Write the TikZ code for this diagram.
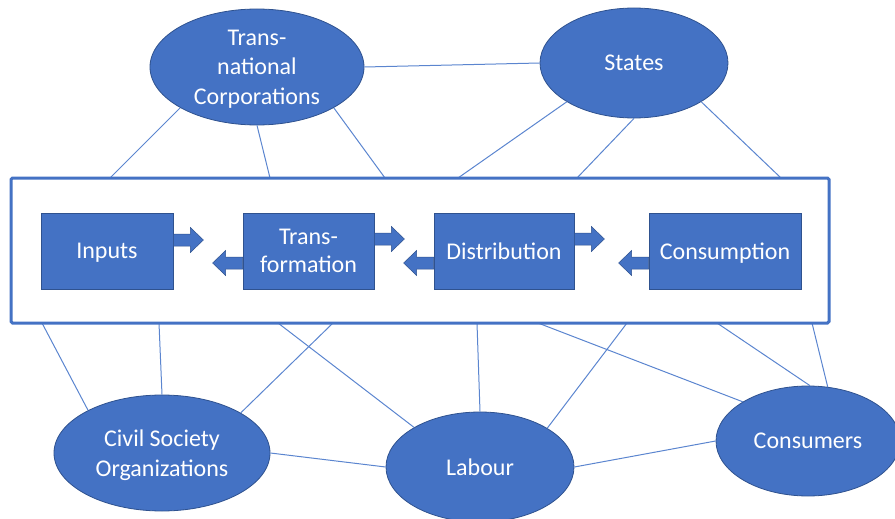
\documentclass[tikz,border=0pt]{standalone}
\usepackage{fontspec}
\setmainfont{Carlito}
\usetikzlibrary{shapes.geometric,calc}
\definecolor{offblue}{HTML}{4472C4}
\definecolor{edgeblue}{HTML}{2F528F}
\definecolor{lineblue}{HTML}{5B85CF}
\tikzset{
  actor/.style={ellipse, fill=offblue, draw=edgeblue, line width=0.8pt, inner sep=0pt,
    text=white, align=center, text depth=0pt, font=\fontsize{24}{29.5}\selectfont},
  stage/.style={rectangle, fill=offblue, draw=edgeblue, line width=0.8pt, inner sep=0pt,
    minimum height=76pt, text=white, align=center, text depth=0pt, font=\fontsize{24}{28}\selectfont},
  link/.style={draw=lineblue, line width=1pt},
  rarrow/.pic={\filldraw[fill=offblue, draw=edgeblue, line width=0.5pt]
    (0,-6)--(17,-6)--(17,-12.5)--(30,0)--(17,12.5)--(17,6)--(0,6)--cycle;},
}
\begin{document}
\begin{tikzpicture}[x=1pt,y=-1pt]
\useasboundingbox (0,0) rectangle (895,519);
% actors
\node[actor, minimum width=214pt, minimum height=116pt] (tnc) at (257,67) {Trans-\\national\\Corporations};
\node[actor, minimum width=188pt, minimum height=110pt] (states) at (634,63) {States};
\node[actor, minimum width=216pt, minimum height=116pt] (cso) at (162,453) {Civil Society\\Organizations};
\node[actor, minimum width=188pt, minimum height=110pt] (labour) at (480,467) {Labour};
\node[actor, minimum width=184pt, minimum height=110pt] (consumers) at (808,441) {Consumers};
% frame end points
\coordinate (t1) at (110,178);
\coordinate (t2) at (270,178);
\coordinate (t3) at (385,178);
\coordinate (t4) at (458,178);
\coordinate (t5) at (577,178);
\coordinate (t6) at (781,178);
\coordinate (b1) at (42,323);
\coordinate (b2) at (159,323);
\coordinate (b3) at (333,323);
\coordinate (b4) at (278,323);
\coordinate (b5) at (477,323);
\coordinate (b6) at (627,323);
\coordinate (b7) at (538,323);
\coordinate (b8) at (717,323);
\coordinate (b9) at (812,323);
% connectors
\draw[link] (tnc.208) -- (t1);
\draw[link] (tnc.270) -- (t2);
\draw[link] (tnc.332) -- (t3);
\draw[link] (tnc.east) -- (states.west);
\draw[link] (states.210.5) -- (t4);
\draw[link] (states.270) -- (t5);
\draw[link] (states.330) -- (t6);
\draw[link] (cso.150.5) -- (b1);
\draw[link] (cso.90) -- (b2);
\draw[link] (cso.27.7) -- (b3);
\draw[link] (cso.east) -- (labour.west);
\draw[link] (labour.149.2) -- (b4);
\draw[link] (labour.90) -- (b5);
\draw[link] (labour.30.8) -- (b6);
\draw[link] (labour.east) -- (consumers.west);
\draw[link] (consumers.149) -- (b7);
\draw[link] (consumers.88) -- (b8);
\draw[link] (consumers.70) -- (b9);
% frame
\node[rectangle, draw=offblue, fill=white, line width=3pt, rounded corners=1.5pt,
  minimum width=818pt, minimum height=145pt, inner sep=0pt] (frame) at (420,250.5) {};
% stages
\node[stage, minimum width=132pt] (inputs) at (107,251) {Inputs};
\node[stage, minimum width=131pt] (trans) at (308.5,251) {Trans-\\formation};
\node[stage, minimum width=140pt] (distr) at (504,251) {Distribution};
\node[stage, minimum width=152pt] (cons) at (725,251) {Consumption};
% block arrows
\pic at ($(inputs.east)+(0,-11)$) {rarrow};
\pic at ($(trans.east)+(0,-12)$) {rarrow};
\pic at ($(distr.east)+(0,-12)$) {rarrow};
\pic[xscale=-1] at ($(trans.west)+(0,12)$) {rarrow};
\pic[xscale=-1] at ($(distr.west)+(0,12)$) {rarrow};
\pic[xscale=-1] at ($(cons.west)+(0,12)$) {rarrow};
\end{tikzpicture}
\end{document}
